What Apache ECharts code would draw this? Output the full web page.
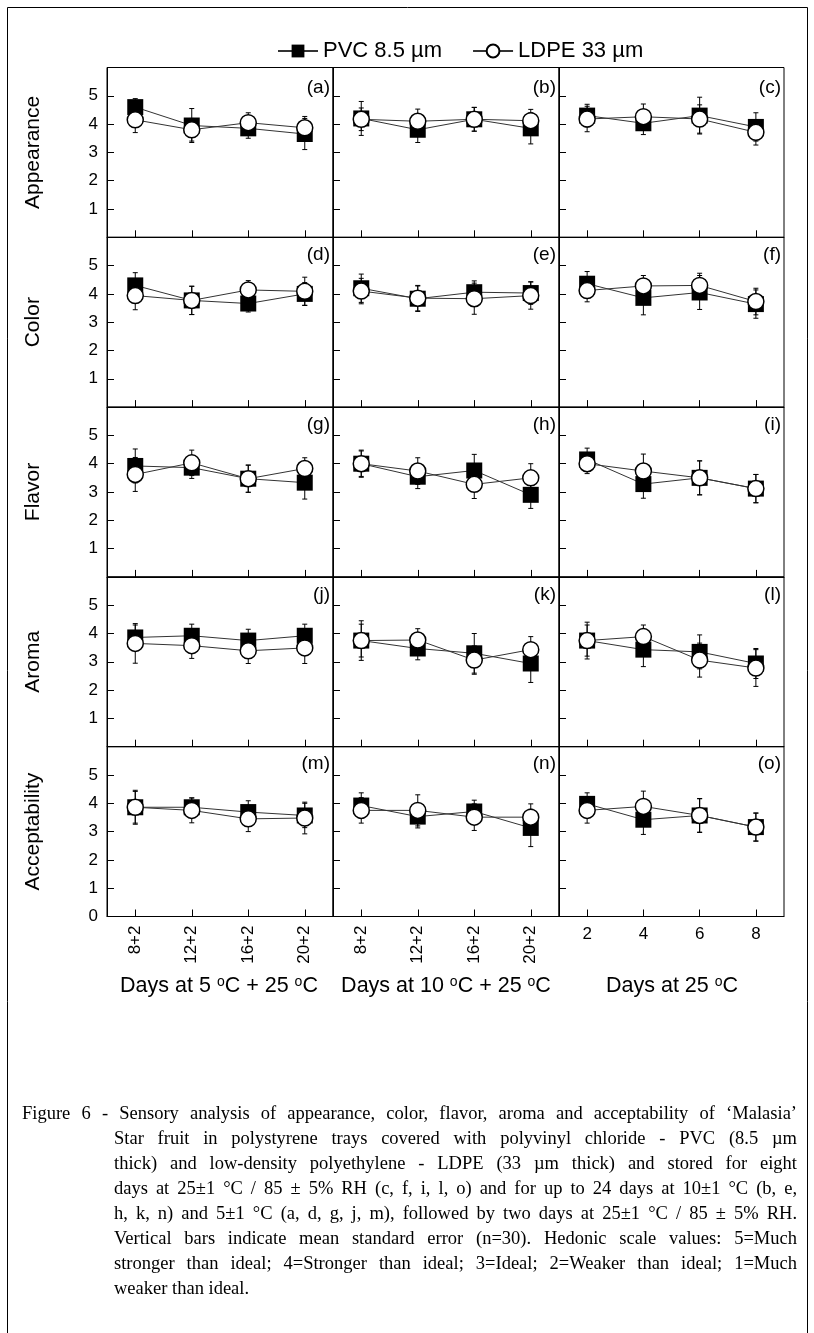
<!DOCTYPE html>
<html>
<head>
<meta charset="utf-8">
<script src="https://cdn.jsdelivr.net/npm/echarts@6/dist/echarts.min.js"></script>
<style>
html,body{margin:0;padding:0;background:#fff;}
#chart{width:814px;height:1333px;}
</style>
</head>
<body>
<div id="chart"></div>
<script>
// ---------------- DATA ----------------
const attributes = ['Appearance', 'Color', 'Flavor', 'Aroma', 'Acceptability'];
const panelLetters = ['a','b','c','d','e','f','g','h','i','j','k','l','m','n','o'];
const catsCold = ['8+2', '12+2', '16+2', '20+2'];
const cats25 = ['2', '4', '6', '8'];
const yTicks = [0, 1, 2, 3, 4, 5];
const seriesNames = ['PVC 8.5 µm', 'LDPE 33 µm'];
const xTitles = ['Days at 5 {s|o}C + 25 {s|o}C', 'Days at 10 {s|o}C + 25 {s|o}C', 'Days at 25 {s|o}C'];

// each array: [5 °C panel, 10 °C panel, 25 °C panel]
const appearancePVC    = [[4.60, 3.95, 3.85, 3.65], [4.20, 3.80, 4.17, 3.85], [4.30, 4.03, 4.30, 3.90]];
const appearancePVCErr = [[0.30, 0.60, 0.35, 0.55], [0.60, 0.45, 0.42, 0.55], [0.40, 0.40, 0.65, 0.50]];
const appearanceLDPE    = [[4.15, 3.80, 4.05, 3.87], [4.17, 4.10, 4.17, 4.12], [4.18, 4.26, 4.18, 3.71]];
const appearanceLDPEErr = [[0.45, 0.40, 0.35, 0.40], [0.40, 0.43, 0.42, 0.40], [0.45, 0.45, 0.50, 0.45]];

const colorPVC    = [[4.30, 3.77, 3.66, 4.00], [4.20, 3.83, 4.06, 4.03], [4.36, 3.86, 4.05, 3.64]];
const colorPVCErr = [[0.45, 0.50, 0.30, 0.40], [0.50, 0.45, 0.40, 0.40], [0.43, 0.60, 0.60, 0.50]];
const colorLDPE    = [[3.94, 3.77, 4.14, 4.09], [4.10, 3.85, 3.83, 3.94], [4.12, 4.28, 4.30, 3.73]];
const colorLDPEErr = [[0.50, 0.50, 0.33, 0.50], [0.45, 0.45, 0.55, 0.48], [0.40, 0.37, 0.43, 0.47]];

const flavorPVC    = [[3.92, 3.86, 3.47, 3.33], [4.00, 3.54, 3.76, 2.90], [4.15, 3.28, 3.50, 3.12]];
const flavorPVCErr = [[0.60, 0.38, 0.48, 0.58], [0.45, 0.42, 0.57, 0.48], [0.40, 0.50, 0.60, 0.50]];
const flavorLDPE    = [[3.62, 4.03, 3.47, 3.83], [4.00, 3.74, 3.27, 3.50], [4.00, 3.74, 3.50, 3.12]];
const flavorLDPEErr = [[0.60, 0.45, 0.48, 0.38], [0.48, 0.47, 0.50, 0.50], [0.35, 0.60, 0.60, 0.50]];

const aromaPVC    = [[3.86, 3.92, 3.75, 3.92], [3.75, 3.47, 3.30, 2.94], [3.75, 3.43, 3.35, 2.94]];
const aromaPVCErr = [[0.44, 0.41, 0.40, 0.41], [0.58, 0.40, 0.70, 0.67], [0.55, 0.60, 0.60, 0.53]];
const aromaLDPE    = [[3.65, 3.57, 3.39, 3.49], [3.75, 3.77, 3.06, 3.43], [3.75, 3.89, 3.06, 2.78]];
const aromaLDPEErr = [[0.70, 0.45, 0.45, 0.55], [0.70, 0.40, 0.50, 0.46], [0.65, 0.41, 0.60, 0.65]];

const acceptPVC    = [[3.86, 3.86, 3.69, 3.57], [3.92, 3.53, 3.71, 3.13], [3.98, 3.42, 3.57, 3.16]];
const acceptPVCErr = [[0.60, 0.33, 0.40, 0.43], [0.45, 0.40, 0.40, 0.66], [0.39, 0.52, 0.60, 0.50]];
const acceptLDPE    = [[3.86, 3.75, 3.45, 3.48], [3.75, 3.75, 3.51, 3.51], [3.75, 3.89, 3.57, 3.16]];
const acceptLDPEErr = [[0.56, 0.44, 0.45, 0.56], [0.45, 0.55, 0.47, 0.47], [0.45, 0.54, 0.59, 0.49]];

const captionLines = [
  'Figure 6 - Sensory analysis of appearance, color, flavor, aroma and acceptability of \u2018Malasia\u2019',
  'Star fruit in polystyrene trays covered with polyvinyl chloride - PVC (8.5 \u00b5m',
  'thick) and low-density polyethylene - LDPE (33 \u00b5m thick) and stored for eight',
  'days at 25\u00b11 \u00b0C / 85 \u00b1 5% RH (c, f, i, l, o) and for up to 24 days at 10\u00b11 \u00b0C (b, e,',
  'h, k, n) and 5\u00b11 \u00b0C (a, d, g, j, m), followed by two days at 25\u00b11 \u00b0C / 85 \u00b1 5% RH.',
  'Vertical bars indicate mean standard error (n=30). Hedonic scale values: 5=Much',
  'stronger than ideal; 4=Stronger than ideal; 3=Ideal; 2=Weaker than ideal; 1=Much',
  'weaker than ideal.'
];

// --------------- BUILD ---------------
const pvcRows = [appearancePVC, colorPVC, flavorPVC, aromaPVC, acceptPVC];
const pvcErrRows = [appearancePVCErr, colorPVCErr, flavorPVCErr, aromaPVCErr, acceptPVCErr];
const ldpeRows = [appearanceLDPE, colorLDPE, flavorLDPE, aromaLDPE, acceptLDPE];
const ldpeErrRows = [appearanceLDPEErr, colorLDPEErr, flavorLDPEErr, aromaLDPEErr, acceptLDPEErr];

const FONT = '"Liberation Sans", Arial, sans-serif';
const SERIF = '"Liberation Serif", "Times New Roman", serif';
const colLeft = [107, 333, 559];
const colW = [226, 226, 225];
const rowTop0 = 67.5, rowH = 169.8;
const CAP_FS = 18.5;

const grids = [], xAxes = [], yAxes = [], series = [], graphics = [];

function errRender(params, api) {
  const x = api.value(0), y = api.value(1), e = api.value(2);
  const t = api.coord([x, y + e]);
  const b = api.coord([x, y - e]);
  const hw = 2.5;
  const st = {stroke: '#000', lineWidth: 1};
  return {type: 'group', children: [
    {type: 'line', shape: {x1: t[0], y1: t[1], x2: b[0], y2: b[1]}, style: st},
    {type: 'line', shape: {x1: t[0] - hw, y1: t[1], x2: t[0] + hw, y2: t[1]}, style: st},
    {type: 'line', shape: {x1: b[0] - hw, y1: b[1], x2: b[0] + hw, y2: b[1]}, style: st}
  ]};
}

for (let r = 0; r < 5; r++) {
  for (let c = 0; c < 3; c++) {
    const gi = r * 3 + c;
    const top = rowTop0 + r * rowH;
    grids.push({left: colLeft[c], top: top, width: colW[c], height: rowH, show: true,
      borderColor: '#000', borderWidth: 1, backgroundColor: 'transparent', containLabel: false});
    xAxes.push({gridIndex: gi, type: 'category', data: c < 2 ? catsCold : cats25, boundaryGap: true,
      axisLine: {show: true, lineStyle: {color: '#000', width: 1}},
      axisTick: {show: true, inside: true, length: 7, alignWithLabel: true, lineStyle: {color: '#000'}},
      axisLabel: {show: r === 4, rotate: c < 2 ? 90 : 0, fontSize: 17, color: '#000', margin: 9, fontFamily: FONT, interval: 0},
      splitLine: {show: false}});
    yAxes.push({gridIndex: gi, type: 'value', min: yTicks[0], max: 6, interval: 1,
      axisLine: {show: true, lineStyle: {color: '#000', width: 1}},
      axisTick: {show: true, inside: true, length: 7, lineStyle: {color: '#000'}},
      axisLabel: {show: c === 0, fontSize: 17, color: '#000', margin: 9, fontFamily: FONT,
        formatter: v => (yTicks.indexOf(v) < 0 || (v === 0 && r !== 4)) ? '' : String(v)},
      splitLine: {show: false},
      name: c === 0 ? attributes[r] : '', nameLocation: 'middle', nameRotate: 90, nameGap: 63,
      nameTextStyle: {fontSize: 21, color: '#000', fontFamily: FONT}});

    const pvc = pvcRows[r][c], pvcE = pvcErrRows[r][c];
    const ldpe = ldpeRows[r][c], ldpeE = ldpeErrRows[r][c];
    series.push({type: 'custom', xAxisIndex: gi, yAxisIndex: gi, z: 2, silent: true,
      renderItem: errRender, data: pvc.map((v, i) => [i, v, pvcE[i]])});
    series.push({type: 'custom', xAxisIndex: gi, yAxisIndex: gi, z: 2, silent: true,
      renderItem: errRender, data: ldpe.map((v, i) => [i, v, ldpeE[i]])});
    series.push({type: 'line', name: seriesNames[0], xAxisIndex: gi, yAxisIndex: gi, z: 3,
      data: pvc, symbol: 'rect', symbolSize: 16, showSymbol: true,
      itemStyle: {color: '#000', borderColor: '#000', borderWidth: 0},
      lineStyle: {color: '#333', width: 1}, emphasis: {disabled: true}});
    series.push({type: 'line', name: seriesNames[1], xAxisIndex: gi, yAxisIndex: gi, z: 4,
      data: ldpe, symbol: 'circle', symbolSize: 16, showSymbol: true,
      itemStyle: {color: '#fff', borderColor: '#000', borderWidth: 1.5},
      lineStyle: {color: '#333', width: 1}, emphasis: {disabled: true}});

    graphics.push({type: 'text', right: 814 - (colLeft[c] + colW[c]) + 3, top: top + (r === 0 ? 11 : 8),
      style: {text: '(' + panelLetters[gi] + ')', fontSize: 19, fill: '#000', fontFamily: FONT}});
  }
}

// x titles
const titleCenters = [219, 446, 672];
xTitles.forEach((t, i) => {
  graphics.push({type: 'text', x: titleCenters[i], y: 986,
    style: {text: t, fontSize: 21.5, fill: '#000', fontFamily: FONT, align: 'center', verticalAlign: 'middle',
      rich: {s: {fontSize: 14, verticalAlign: 'top', fontFamily: FONT, fill: '#000', lineHeight: 20}}}});
});

// frame
graphics.push({type: 'polyline', shape: {points: [[7.5, 1333], [7.5, 7.5], [807.5, 7.5], [807.5, 1333]]},
  style: {stroke: '#000', lineWidth: 1, fill: null}});

// caption (justified)
const mctx = document.createElement('canvas').getContext('2d');
mctx.font = CAP_FS + 'px "Liberation Serif"';
const capRight = 797;
captionLines.forEach((line, i) => {
  const x0 = i === 0 ? 22 : 114;
  const y = 1114 + i * 25;
  const words = line.split(' ');
  const justify = i < captionLines.length - 1;
  if (!justify) {
    graphics.push({type: 'text', x: x0, y: y, style: {text: line, fontSize: CAP_FS, fill: '#000', fontFamily: SERIF, verticalAlign: 'middle'}});
    return;
  }
  const widths = words.map(w => mctx.measureText(w).width);
  const total = widths.reduce((a, b) => a + b, 0);
  const gap = (capRight - x0 - total) / (words.length - 1);
  let x = x0;
  words.forEach((w, k) => {
    graphics.push({type: 'text', x: x, y: y, style: {text: w, fontSize: CAP_FS, fill: '#000', fontFamily: SERIF, verticalAlign: 'middle'}});
    x += widths[k] + gap;
  });
});

const chart = echarts.init(document.getElementById('chart'), null, {renderer: 'canvas'});
chart.setOption({
  backgroundColor: '#fff',
  animation: false,
  legend: {show: true, data: seriesNames, left: 272, top: 35, itemWidth: 40, itemHeight: 16, itemGap: 30,
    textStyle: {fontSize: 22, color: '#000', fontFamily: FONT}, selectedMode: false},
  grid: grids, xAxis: xAxes, yAxis: yAxes, series: series, graphic: graphics
});
</script>
</body>
</html>
